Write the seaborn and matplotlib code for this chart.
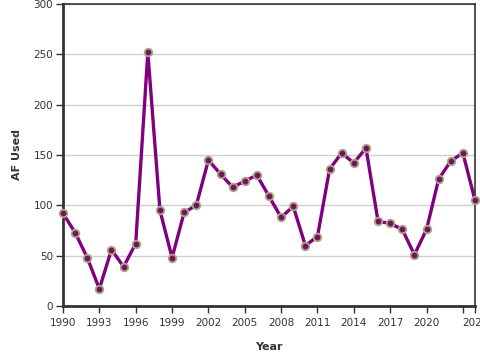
import matplotlib
matplotlib.use("Agg")
import matplotlib.pyplot as plt
import seaborn as sns
import pandas as pd

years = list(range(1990, 2025))
af_used = [92, 73, 48, 17, 56, 39, 62, 252, 95, 48, 93, 100, 145, 131, 118, 124,
           130, 109, 88, 99, 60, 69, 136, 152, 142, 157, 84, 82, 76, 51, 76, 126,
           144, 152, 105]
x_ticks = list(range(1990, 2024, 3)) + [2024]
x_tick_labels = [str(y) if y != 2023 else "" for y in x_ticks]
y_ticks = [0, 50, 100, 150, 200, 250, 300]

df = pd.DataFrame({"Year": years, "AF Used": af_used})

sns.set_style("white")
plt.rcParams['font.family'] = ['DejaVu Sans']

fig = plt.figure(figsize=(4.8, 3.6), dpi=100)
ax = fig.add_axes([63/480, 1-306/360, (475-63)/480, (306-4)/360])

sns.lineplot(data=df, x="Year", y="AF Used", ax=ax, color="#800080", linewidth=2.4,
             marker="o", markersize=5.5, markerfacecolor="#6e1660",
             markeredgecolor="#b0a585", markeredgewidth=1.3, zorder=3, clip_on=False)

ax.set_xlim(1990, 2024)
ax.set_ylim(0, 300)
ax.set_xticks(x_ticks)
ax.set_xticklabels(x_tick_labels)
ax.set_yticks(y_ticks)
ax.yaxis.grid(True, color="#d0d0d0", linewidth=1)
ax.xaxis.grid(False)
ax.set_axisbelow(True)

for side in ["left", "bottom"]:
    ax.spines[side].set_color("#333333")
    ax.spines[side].set_linewidth(2)
for side in ["top", "right"]:
    ax.spines[side].set_visible(True)
    ax.spines[side].set_color("#333333")
    ax.spines[side].set_linewidth(1.2)

ax.tick_params(axis="both", which="both", length=5, width=1, color="#333333",
               labelsize=7.5, labelcolor="#333333", direction="out",
               bottom=True, left=True)
ax.tick_params(axis="x", pad=4)
ax.tick_params(axis="y", pad=2)

ax.set_xlabel("Year", fontsize=8, fontweight="bold", color="#333333", labelpad=10)
ax.set_ylabel("AF Used", fontsize=8, fontweight="bold", color="#333333", labelpad=8)

fig.savefig("out.png", dpi=100)
